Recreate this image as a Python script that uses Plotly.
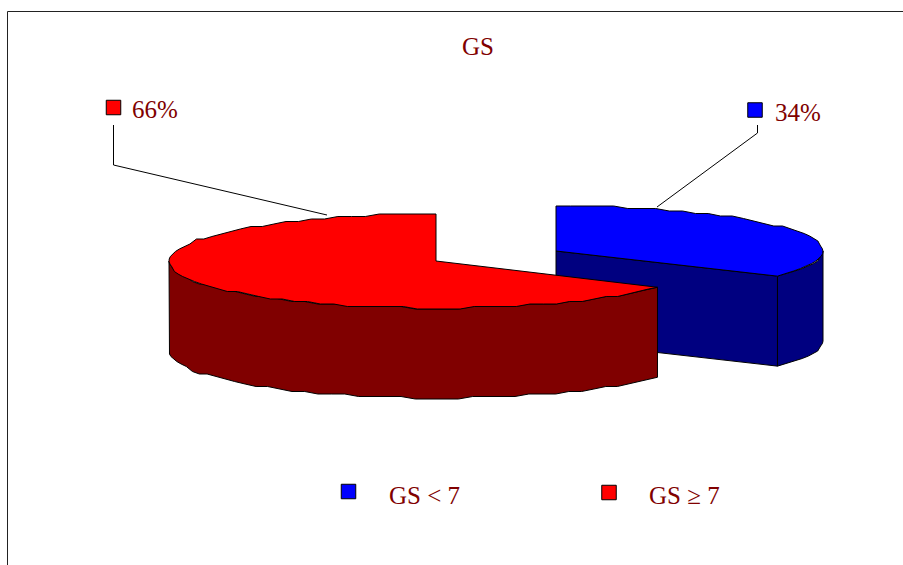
import numpy as np
import plotly.graph_objects as go

# Chart content
title = "GS"
categories = ["GS < 7", "GS \u2265 7"]
shares = [34, 66]
share_labels = ["34%", "66%"]

# Colours per category: lit top, shaded wall
top_colors = ["#0000FF", "#FF0000"]
wall_colors = ["#000080", "#800000"]
text_color = "#800000"
font_family = "Liberation Serif"

# Pie geometry in page pixels
RX = 267
DEPTH = 90
blue_centre = (556, 251, 45)   # cx, cy, ry of the exploded slice
red_centre = (436, 261, 47)


def warp(t):
    # slight foreshortening of the tilted disc
    return t - 0.03 * np.sin(2 * t)


def rim(centre, a0, a1, drop=0):
    # points along the disc edge, clockwise from 12 o'clock, snapped to a coarse grid
    cx, cy, ry = centre
    n = max(2, int(abs(a1 - a0) / 3.2))
    t = warp(np.radians(np.linspace(a0, a1, n)))
    x = cx + RX * np.sin(t)
    y = cy - ry * np.cos(t)
    top = cy - ry
    snapped = np.round((y - top) / 2.5) * 2.5 + top
    snapped[0], snapped[-1] = y[0], y[-1]
    return x, snapped + drop


def poly(fig, xs, ys, color):
    fig.add_trace(go.Scatter(
        x=np.r_[xs, xs[0]], y=np.r_[ys, ys[0]], mode="lines", fill="toself",
        fillcolor=color, line=dict(color="#000000", width=1), hoverinfo="skip",
    ))


def line(fig, xs, ys, color="#000000", width=1):
    fig.add_trace(go.Scatter(x=xs, y=ys, mode="lines", hoverinfo="skip",
                             line=dict(color=color, width=width)))


fig = go.Figure()

# Slice ends, in degrees clockwise from the top
end_blue = 360 * shares[0] / sum(shares)

# Blue slice: cut face, outer wall, then top
cx, cy, ry = blue_centre
tx, ty = rim(blue_centre, end_blue, end_blue)
poly(fig, [cx, tx[0], tx[0], cx], [cy, ty[0], ty[0] + DEPTH, cy + DEPTH], wall_colors[0])
rx_, ry_ = rim(blue_centre, 90, end_blue)
poly(fig, np.r_[rx_, rx_[::-1]], np.r_[ry_, ry_[::-1] + DEPTH], wall_colors[0])
rx_, ry_ = rim(blue_centre, 0, end_blue)
poly(fig, np.r_[cx, rx_], np.r_[cy, ry_], top_colors[0])

# Red slice: outer wall, then top
cx, cy, ry = red_centre
rx_, ry_ = rim(red_centre, end_blue, 270)
poly(fig, np.r_[rx_, rx_[::-1]], np.r_[ry_, ry_[::-1] + DEPTH], wall_colors[1])
rx_, ry_ = rim(red_centre, end_blue, 360)
poly(fig, np.r_[cx, rx_], np.r_[cy, ry_], top_colors[1])

# Leader lines from the share labels to the slices
line(fig, [757.5, 757.5, 657], [125, 133, 207])
line(fig, [113.5, 113.5, 327], [125, 165, 215])

# Chart frame, open on the right and bottom
line(fig, [7.5, 7.5, 903], [565, 11.5, 11.5], color="#222222", width=1)

# Colour keys beside the share labels and in the legend row
key_x = [755, 113.5, 348.5, 609]
key_y = [110, 107.5, 491.5, 492.5]
key_colors = [top_colors[0], top_colors[1], top_colors[0], top_colors[1]]
KEY_HALF = 7.25
for kx, ky, kc in zip(key_x, key_y, key_colors):
    fig.add_shape(type="rect", xref="x", yref="y",
                  x0=kx - KEY_HALF, x1=kx + KEY_HALF, y0=ky - KEY_HALF, y1=ky + KEY_HALF,
                  fillcolor=kc, line=dict(color="#000000", width=1))


def label(x, y, text, anchor="left"):
    fig.add_annotation(x=x, y=y, xref="x", yref="y", text=text, showarrow=False,
                       xanchor=anchor, yanchor="middle",
                       font=dict(family=font_family, size=25, color=text_color))


label(478, 46, title, "center")
label(773, 112, share_labels[0])
label(130, 109, share_labels[1])
label(387, 495, categories[0])
label(647, 495, categories[1])

fig.update_layout(
    width=903, height=565, margin=dict(l=0, r=0, t=0, b=0),
    paper_bgcolor="#FFFFFF", plot_bgcolor="#FFFFFF", showlegend=False,
    xaxis=dict(range=[0, 903], visible=False, fixedrange=True),
    yaxis=dict(range=[565, 0], visible=False, fixedrange=True),
)

fig.write_html("out.html", config={"displayModeBar": False})
